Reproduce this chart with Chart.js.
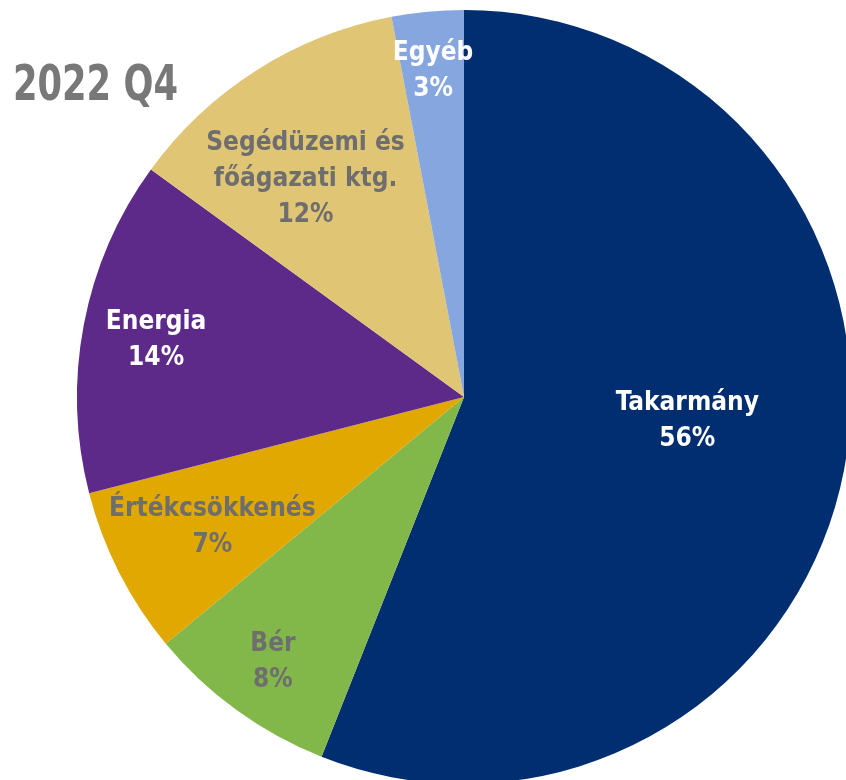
<!DOCTYPE html>
<html lang="hu">
<head>
  <meta charset="UTF-8">
  <title>2022 Q4</title>
  <style>
    body {
      margin: 0;
      background: #ffffff;
      width: 846px;
      height: 780px;
      overflow: hidden;
      position: relative;
    }
    /* pie is bigger than the window, it runs off right and bottom */
    #pie {
      position: absolute;
      left: 0;
      top: 10px;
    }
    .title {
      position: absolute;
      left: 13px;
      top: 56px;
      font-family: 'DejaVu Sans Condensed', sans-serif;
      font-weight: bold;
      font-size: 49px;
      line-height: 56px;
      color: #787878;
      transform: scaleX(0.8); /* the original face is narrower */
      transform-origin: left top;
      z-index: 2;
    }
  </style>
</head>
<body>
  <div class="title">2022 Q4</div>
  <canvas id="pie" width="928" height="774"></canvas>

  <script src="https://cdn.jsdelivr.net/npm/chart.js"></script>
  <script>
    // data
    const categories = ['Takarmány', 'Bér', 'Értékcsökkenés', 'Energia', 'Segédüzemi és\nfőágazati ktg.', 'Egyéb'];
    const shares = [56, 8, 7, 14, 12, 3];

    const sliceColors = ['#002E70', '#82B84A', '#E0A800', '#5E2A8A', '#E0C574', '#86A6E0'];
    const textColors = ['#ffffff', '#6e6e6e', '#6e6e6e', '#ffffff', '#6e6e6e', '#ffffff'];

    // where to put each label: share of radius, and a small turn in degrees
    const labelRadius = [0.58, 0.84, 0.73, 0.81, 0.70, 0.85];
    const labelTurn = [-5, 0, 0, 0, -3.4, 0];

    const sliceLabels = {
      id: 'sliceLabels',
      afterDatasetsDraw(chart) {
        const ctx = chart.ctx;
        const meta = chart.getDatasetMeta(0);
        ctx.save();
        ctx.font = "bold 26px 'DejaVu Sans Condensed', sans-serif";
        ctx.textAlign = 'center';
        ctx.textBaseline = 'middle';
        meta.data.forEach((arc, i) => {
          const p = arc.getProps(['x', 'y', 'startAngle', 'endAngle', 'outerRadius'], true);
          const a = (p.startAngle + p.endAngle) / 2 + labelTurn[i] * Math.PI / 180;
          const r = p.outerRadius * labelRadius[i];
          const cx = p.x + Math.cos(a) * r;
          const cy = p.y + Math.sin(a) * r + 2;
          const lines = categories[i].split('\n').concat([shares[i] + '%']);
          const lh = 36;
          ctx.fillStyle = textColors[i];
          lines.forEach((t, k) => {
            ctx.fillText(t, cx, cy + (k - (lines.length - 1) / 2) * lh);
          });
        });
        ctx.restore();
      }
    };

    new Chart(document.getElementById('pie'), {
      type: 'pie',
      data: {
        labels: categories,
        datasets: [{
          data: shares,
          backgroundColor: sliceColors,
          borderWidth: 0,
          hoverOffset: 0
        }]
      },
      options: {
        responsive: false,
        animation: false,
        layout: { padding: 0 },
        plugins: {
          legend: { display: false },
          tooltip: { enabled: false }
        }
      },
      plugins: [sliceLabels]
    });
  </script>
</body>
</html>
